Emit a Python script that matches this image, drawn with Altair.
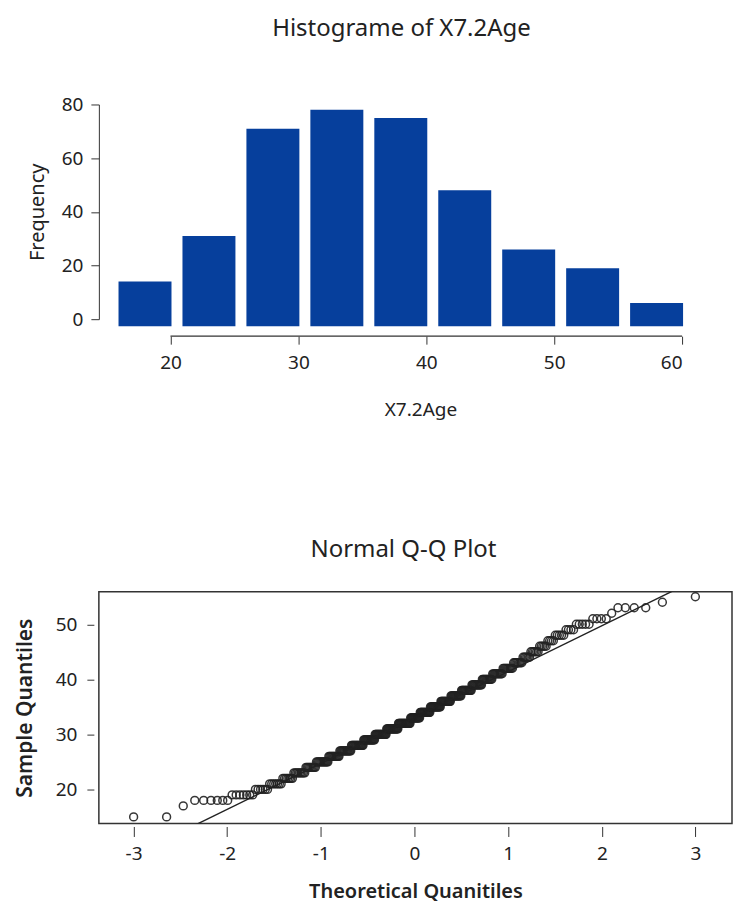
import altair as alt
import pandas as pd

# ---------------- Histogram data ----------------
bin_start = [15, 20, 25, 30, 35, 40, 45, 50, 55]
bin_end = [20, 25, 30, 35, 40, 45, 50, 55, 60]
freq = [14, 31, 71, 78, 75, 48, 26, 19, 6]
hist_x_ticks = [20, 30, 40, 50, 60]
hist_y_ticks = [0, 20, 40, 60, 80]

# ---------------- Q-Q plot data (sample values, as counts per age) ----------------
qq_ages = [15, 16, 17, 18, 19, 20, 21, 22, 23, 24, 25, 26, 27, 28, 29, 30, 31, 32, 33, 34,
           35, 36, 37, 38, 39, 40, 41, 42, 43, 44, 45, 46, 47, 48, 49, 50, 51, 52, 53, 54, 55]
qq_counts = [2, 0, 1, 6, 7, 6, 7, 7, 9, 9, 12, 12, 14, 16, 16, 17, 18, 19, 15, 16,
             16, 15, 15, 14, 13, 12, 11, 10, 8, 6, 6, 5, 4, 5, 4, 5, 4, 1, 4, 1, 1]
qq_x_ticks = [-3, -2, -1, 0, 1, 2, 3]
qq_y_ticks = [20, 30, 40, 50]
qq_x_domain = [-3.37, 3.39]
qq_y_domain = [13.8, 55.9]
line_intercept = 33.05
line_slope = 8.34

FONT = "Noto Sans"
BLUE = "#063f9c"
INK = "#222222"

hist_df = pd.DataFrame({"start": bin_start, "end": bin_end, "count": freq})
axis_df = pd.DataFrame({"a": [min(hist_x_ticks)], "b": [max(hist_x_ticks)]})

hx = alt.Scale(domain=[14.4, 60], nice=False, zero=False)
hy = alt.Scale(domain=[0, 80], nice=False)

bars = alt.Chart(hist_df).mark_bar(color=BLUE, xOffset=12, x2Offset=1, y2Offset=7).encode(
    x=alt.X("start:Q", scale=hx,
            axis=alt.Axis(values=hist_x_ticks, domain=False, grid=False, offset=17,
                          tickSize=8, tickColor="#333", labelPadding=9, labelFontSize=19,
                          title="X7.2Age", titleFontSize=19, titleFontWeight="normal",
                          titlePadding=28, titleX=322, titleAlign="center")),
    x2="end:Q",
    y=alt.Y("count:Q", scale=hy,
            axis=alt.Axis(values=hist_y_ticks, grid=False, domainColor="#333", tickColor="#333",
                          tickSize=8, labelPadding=8, labelFontSize=19,
                          title="Frequency", titleFontSize=20, titleFontWeight="normal",
                          titlePadding=14)),
    y2=alt.datum(0),
)

xline = alt.Chart(axis_df).mark_rule(color="#333", strokeWidth=1.2, yOffset=17).encode(
    x=alt.X("a:Q", scale=hx), x2="b:Q", y=alt.datum(0)
)

hist = alt.layer(bars, xline).properties(
    width=584, height=215,
    title=alt.TitleParams("Histograme of X7.2Age", fontSize=24, fontWeight="normal",
                          dx=11, offset=55),
    view=alt.ViewBackground(stroke=None),
)

# ---------------- Q-Q plot ----------------
rows = [a for a, c in zip(qq_ages, qq_counts) for _ in range(c)]
qq_df = pd.DataFrame({"sample": rows})

qx = alt.Scale(domain=qq_x_domain, nice=False, zero=False)
qy = alt.Scale(domain=qq_y_domain, nice=False, zero=False)

pts = alt.Chart(qq_df).transform_window(
    rank="row_number()", sort=[alt.SortField("sample")]
).transform_joinaggregate(
    n="count()"
).transform_calculate(
    theo="quantileNormal((datum.rank - 0.5) / datum.n)"
).mark_point(shape="circle", filled=False, size=62, color=INK, strokeWidth=1.5, opacity=0.9).encode(
    x=alt.X("theo:Q", scale=qx,
            axis=alt.Axis(values=qq_x_ticks, domain=False, grid=False, offset=3, tickSize=10,
                          tickColor="#333", labelPadding=8, labelFontSize=19,
                          labelExpr="'' + datum.value",
                          title="Theoretical Quanitiles", titleFontSize=20, titleFontWeight=600,
                          titlePadding=18)),
    y=alt.Y("sample:Q", scale=qy,
            axis=alt.Axis(values=qq_y_ticks, domain=False, grid=False, offset=5, tickSize=7,
                          tickColor="#333", labelPadding=10, labelFontSize=19,
                          title="Sample Quantiles", titleFontSize=21, titleFontWeight=600,
                          titlePadding=20)),
)

line_df = pd.DataFrame({"x": qq_x_domain})
qline = alt.Chart(line_df).transform_calculate(
    y=f"{line_intercept} + {line_slope} * datum.x"
).mark_line(color=INK, strokeWidth=1.4, clip=True).encode(
    x=alt.X("x:Q", scale=qx), y=alt.Y("y:Q", scale=qy)
)

qq = alt.layer(pts, qline).properties(
    width=634, height=232,
    title=alt.TitleParams("Normal Q-Q Plot", fontSize=24, fontWeight="normal", dx=-12, offset=28),
    view=alt.ViewBackground(stroke="#333", strokeWidth=1.5),
)

chart = alt.vconcat(hist, qq, spacing=118).properties(
    padding={"left": 13, "top": 16, "right": 0, "bottom": 6}
).configure(
    font=FONT,
).configure_axis(
    labelColor=INK, titleColor=INK, labelFont=FONT, titleFont=FONT,
).configure_title(
    font=FONT, color=INK, anchor="middle",
)

chart.save("out.html", embed_options={"renderer": "svg", "actions": False})
